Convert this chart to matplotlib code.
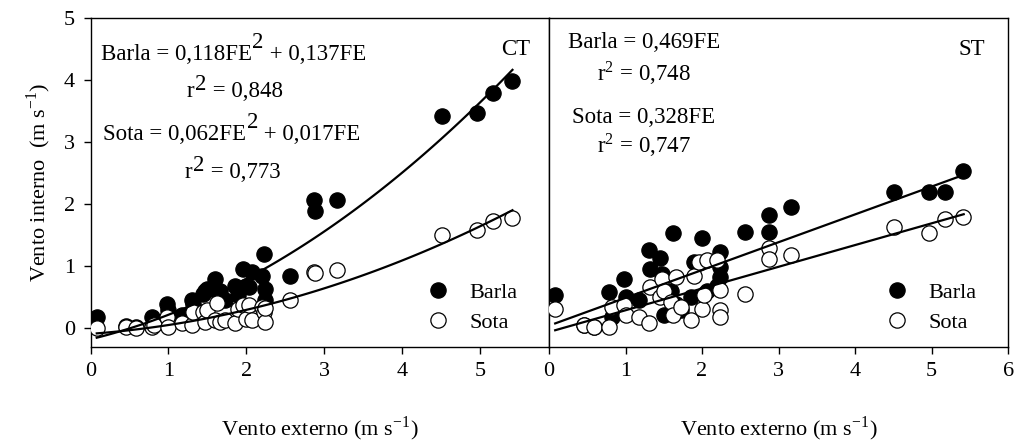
import numpy as np
import matplotlib
matplotlib.use('Agg')
import matplotlib.pyplot as plt

plt.rcParams['font.family'] = 'Liberation Serif'
plt.rcParams['mathtext.fontset'] = 'stix'

# external wind (shared by both panels)
vento_ext = [0.08, 0.46, 0.59, 0.79, 0.82, 0.98, 1.00, 1.17, 1.30, 1.32, 1.45, 1.47,
             1.50, 1.60, 1.62, 1.66, 1.73, 1.86, 1.90, 1.96, 2.00, 2.03, 2.07, 2.20,
             2.23, 2.24, 2.24, 2.56, 2.87, 2.88, 3.16, 4.51, 4.97, 5.17, 5.41]

# CT panel
ct_barla = [0.18, 0.04, 0.02, 0.18, 0.12, 0.40, 0.30, 0.22, 0.45, 0.40, 0.55, 0.61,
            0.64, 0.80, 0.60, 0.61, 0.45, 0.69, 0.53, 0.96, 0.68, 0.67, 0.91, 0.85,
            1.20, 0.64, 0.45, 0.85, 2.06, 1.89, 2.06, 3.42, 3.47, 3.79, 3.98]
ct_sota = [0.01, 0.03, 0.00, 0.03, 0.05, 0.18, 0.03, 0.08, 0.06, 0.26, 0.26, 0.10,
           0.29, 0.13, 0.41, 0.10, 0.13, 0.08, 0.32, 0.37, 0.15, 0.37, 0.14, 0.34,
           0.26, 0.10, 0.33, 0.46, 0.91, 0.89, 0.94, 1.51, 1.58, 1.73, 1.77]

# ST panel
st_barla = [0.53, 0.05, 0.02, 0.59, 0.18, 0.80, 0.50, 0.45, 1.26, 0.96, 1.14, 0.88,
            0.21, 0.60, 1.53, 0.40, 0.30, 0.50, 1.07, 1.05, 1.45, 0.56, 0.60, 0.69,
            1.23, 0.99, 0.83, 1.55, 1.82, 1.55, 1.95, 2.19, 2.20, 2.20, 2.54]
st_sota = [0.32, 0.06, 0.02, 0.03, 0.34, 0.37, 0.21, 0.19, 0.08, 0.67, 0.50, 0.80,
           0.61, 0.42, 0.21, 0.83, 0.35, 0.13, 0.85, 1.07, 0.32, 0.53, 1.10, 1.10,
           0.29, 0.19, 0.62, 0.56, 1.29, 1.12, 1.19, 1.63, 1.54, 1.76, 1.80]

# fitted lines as drawn (polyfit order: highest power first)
ct_barla_fit = [0.092, 0.302, -0.175]
ct_sota_fit = [0.051, 0.091, -0.088]
st_barla_fit = [0.448, 0.044]
st_sota_fit = [0.350, -0.058]

fig = plt.figure(figsize=(10.16, 4.43), dpi=100)
ax1 = fig.add_axes([0.0891, 0.2167, 0.4513, 0.7427])
ax2 = fig.add_axes([0.5404, 0.2167, 0.4518, 0.7427])

fs = 16
fs_eq = 16.5
ms = 11.0


def draw_panel(ax, barla, sota, fit_b, fit_s, xmax):
    ax.plot(vento_ext, barla, 'o', ms=ms, mfc='black', mec='black', mew=0.9,
            ls='none', label='Barla', zorder=3)
    ax.plot(vento_ext, sota, 'o', ms=ms, mfc='white', mec='black', mew=0.9,
            ls='none', label='Sota', zorder=4)
    xx = np.linspace(0.08, 5.42, 100)
    ax.plot(xx, np.polyval(fit_b, xx), color='black', lw=1.6, zorder=5)
    ax.plot(xx, np.polyval(fit_s, xx), color='black', lw=1.6, zorder=5)
    ax.set_xlim(0, xmax)
    ax.set_ylim(-0.3, 5)
    ax.tick_params(direction='out', length=5, width=1, labelsize=fs, pad=6)
    for s in ax.spines.values():
        s.set_linewidth(1.0)
    ax.set_xlabel('Vento externo (m s$^{\\mathregular{-1}}$)', fontsize=fs, labelpad=24)
    leg = ax.legend(loc='lower right', bbox_to_anchor=(0.955, 0.01), frameon=False,
                    fontsize=fs, handletextpad=0.8, labelspacing=0.4,
                    borderpad=0, handlelength=1.2)
    for h in leg.legend_handles:
        h.set_markersize(ms)


def sup_text(ax, x, y, before, sup, after, rise):
    # full size superscript, like the original figure
    t1 = ax.text(x, y, before, transform=ax.transAxes, fontsize=fs_eq,
                 va='baseline', ha='left')
    t2 = ax.annotate(sup, xy=(1, 0), xycoords=t1, xytext=(0.5, rise),
                     textcoords='offset points', fontsize=fs_eq, va='bottom', ha='left')
    ax.annotate(after, xy=(1, 0), xycoords=t2, xytext=(0, -rise),
                textcoords='offset points', fontsize=fs_eq, va='bottom', ha='left')


draw_panel(ax1, ct_barla, ct_sota, ct_barla_fit, ct_sota_fit, 5.89)
draw_panel(ax2, st_barla, st_sota, st_barla_fit, st_sota_fit, 6)

ax1.set_xticks([0, 1, 2, 3, 4, 5])
ax1.set_yticks([0, 1, 2, 3, 4, 5])
ax1.set_ylabel('Vento interno  (m s$^{\\mathregular{-1}}$)', fontsize=fs, labelpad=8)

ax2.set_xticks([0, 1, 2, 3, 4, 5, 6])
ax2.set_yticks([])

# CT equations
sup_text(ax1, 0.022, 0.872, 'Barla = 0,118FE', '2', ' + 0,137FE', 9.0)
sup_text(ax1, 0.21, 0.761, 'r', '2', ' = 0,848', 5.0)
sup_text(ax1, 0.028, 0.629, 'Sota = 0,062FE', '2', ' + 0,017FE', 9.0)
sup_text(ax1, 0.206, 0.513, 'r', '2', ' = 0,773', 5.0)
ax1.text(0.958, 0.903, 'CT', transform=ax1.transAxes, fontsize=fs_eq, va='center', ha='right')

# ST equations
ax2.text(0.041, 0.924, 'Barla = 0,469FE', transform=ax2.transAxes,
         fontsize=fs_eq, va='center', ha='left')
ax2.text(0.207, 0.833, 'r$^{\\mathregular{2}}$ = 0,748', transform=ax2.transAxes,
         fontsize=fs_eq, va='center', ha='center')
ax2.text(0.05, 0.699, 'Sota = 0,328FE', transform=ax2.transAxes,
         fontsize=fs_eq, va='center', ha='left')
ax2.text(0.207, 0.614, 'r$^{\\mathregular{2}}$ = 0,747', transform=ax2.transAxes,
         fontsize=fs_eq, va='center', ha='center')
ax2.text(0.95, 0.903, 'ST', transform=ax2.transAxes, fontsize=fs_eq, va='center', ha='right')

fig.savefig('out.png', dpi=100)
